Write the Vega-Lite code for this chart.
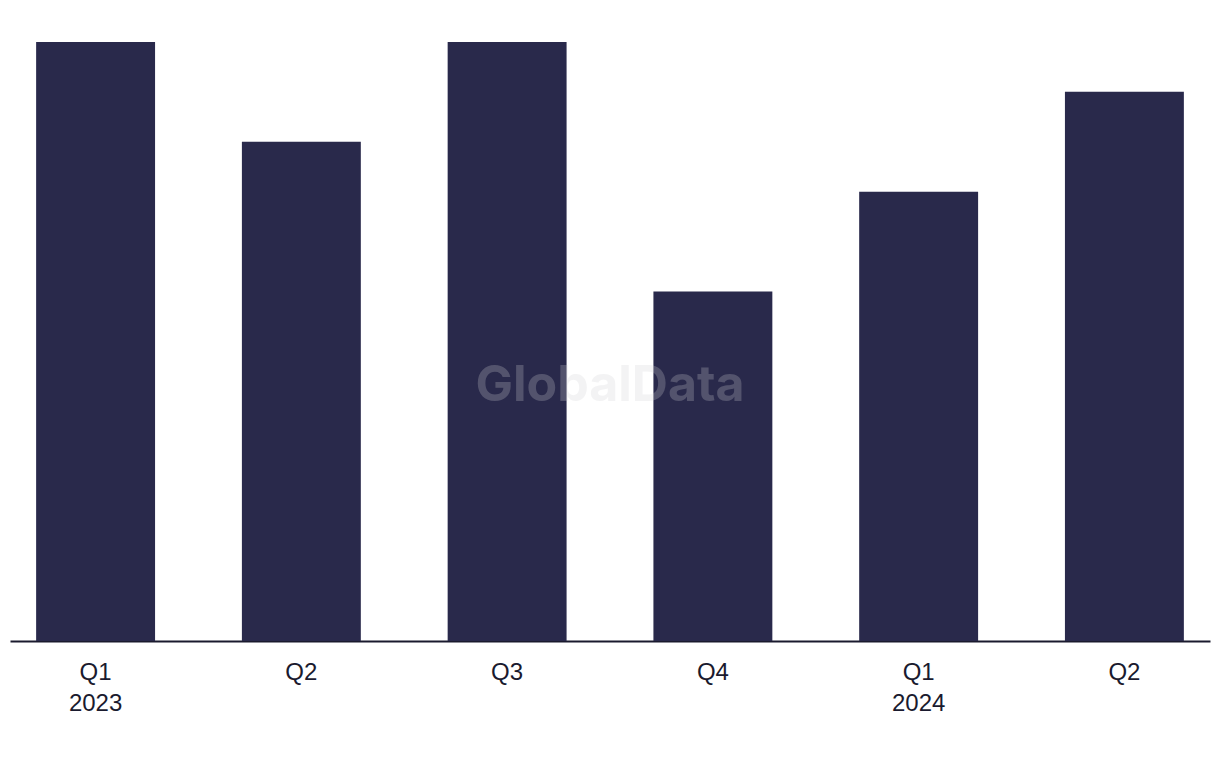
{
  "$schema": "https://vega.github.io/schema/vega-lite/v6.json",
  "autosize": {"type": "none"},
  "padding": {"top": 0, "left": 10, "right": 10, "bottom": 127},
  "width": 1200,
  "height": 641,
  "background": "#ffffff",
  "config": {"view": {"stroke": null}, "font": "Liberation Sans"},
  "layer": [
    {
      "data": {"values": [
        {"period": "Q1 2023", "value": 12},
        {"period": "Q2 2023", "value": 10},
        {"period": "Q3 2023", "value": 12},
        {"period": "Q4 2023", "value": 7},
        {"period": "Q1 2024", "value": 9},
        {"period": "Q2 2024", "value": 11}
      ]},
      "mark": {"type": "bar", "color": "#29294b"},
      "encoding": {
        "x": {
          "field": "period", "type": "nominal", "sort": null,
          "scale": {"paddingInner": 0.422, "paddingOuter": 0.127},
          "axis": {
            "title": null, "ticks": false, "labelAngle": 0,
            "labelExpr": "indexof(datum.value,'Q1')==0 ? split(datum.value,' ') : slice(datum.value,0,2)",
            "labelFont": "Liberation Sans", "labelFontSize": 24, "labelColor": "#1a1a2e",
            "labelLineHeight": 31, "labelPadding": 31, "labelBaseline": "middle",
            "domainColor": "#1a1a2e", "domainWidth": 2, "grid": false
          }
        },
        "y": {
          "field": "value", "type": "quantitative",
          "scale": {"domain": [0, 12.84], "nice": false},
          "axis": null
        }
      }
    },
    {
      "data": {"values": [{"label": "GlobalData", "pos": 5.1}]},
      "mark": {"type": "text", "font": "Inter", "fontWeight": "bold", "fontSize": 50, "color": "#d0d0d4", "opacity": 0.25, "align": "center", "baseline": "middle", "x": {"expr": "width/2"}},
      "encoding": {
        "text": {"field": "label"},
        "y": {"field": "pos", "type": "quantitative"}
      }
    }
  ]
}
